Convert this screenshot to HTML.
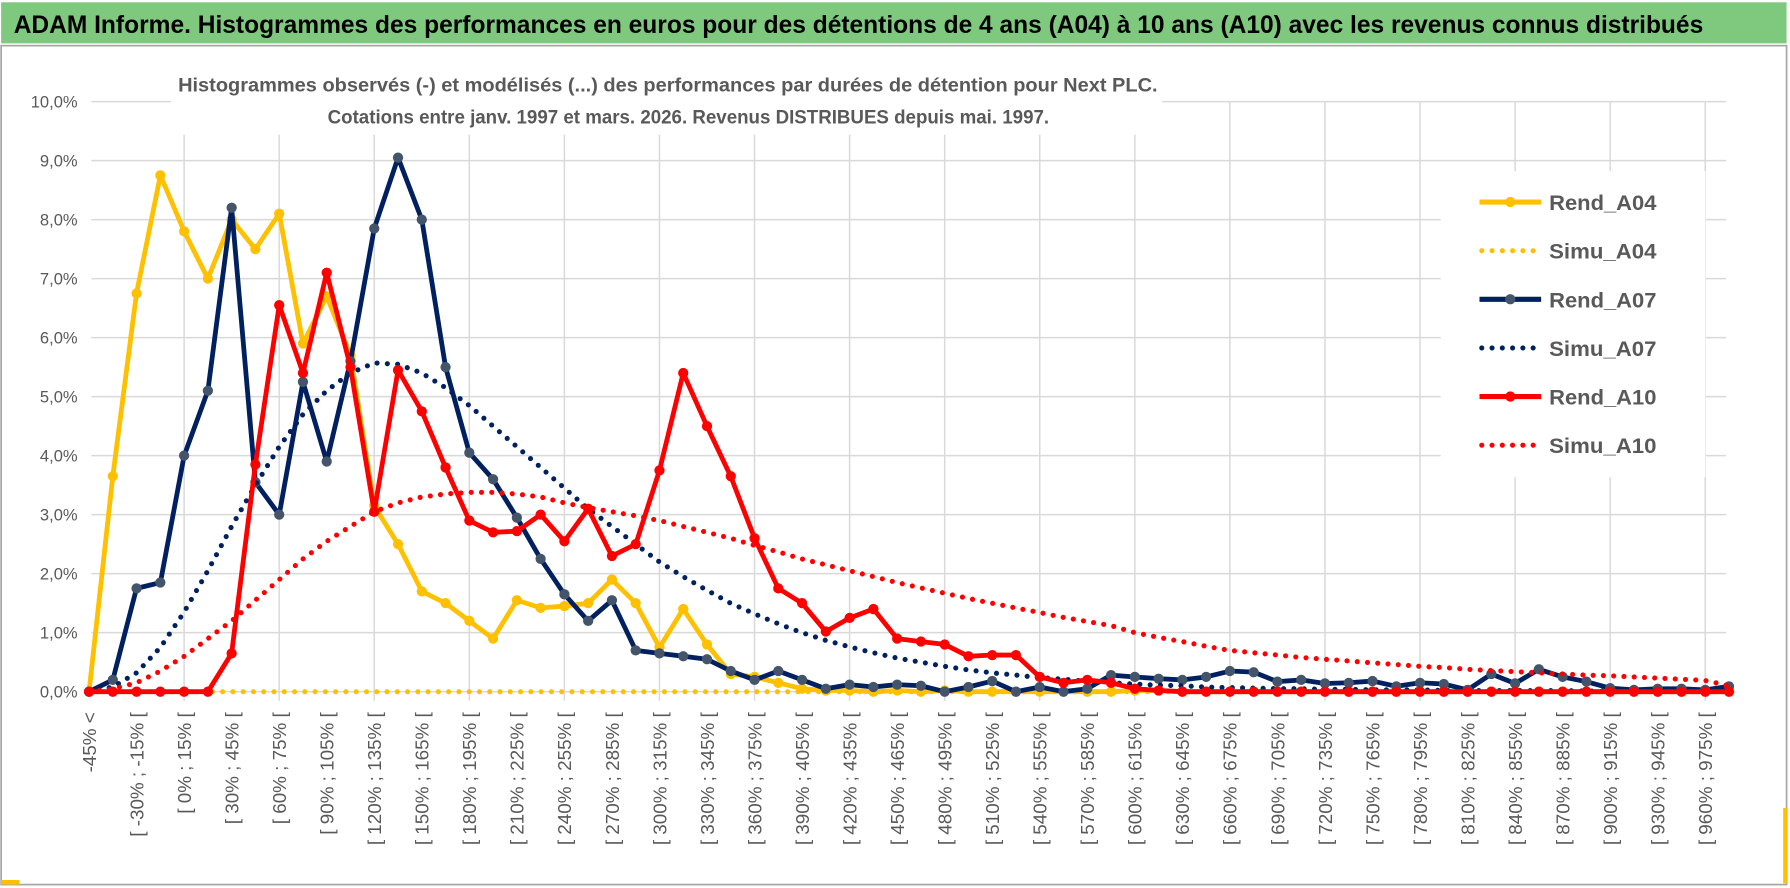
<!DOCTYPE html>
<html><head><meta charset="utf-8"><title>ADAM Informe</title>
<style>
html,body{margin:0;padding:0;background:#fff;}
svg{display:block;}
text{font-family:"Liberation Sans Narrow","Liberation Sans",sans-serif;}
</style></head>
<body>
<svg id="chart" width="1790" height="888" viewBox="0 0 1568 778" preserveAspectRatio="none" xmlns="http://www.w3.org/2000/svg">
  <rect x="0" y="0" width="1568" height="778" fill="#fff"/>
  <rect x="1" y="2" width="1564" height="36" fill="#7ec97e"/>
  <text x="12" y="29" font-size="22" font-weight="bold" fill="#000" textLength="1480" lengthAdjust="spacingAndGlyphs">ADAM Informe. Histogrammes des performances en euros pour des détentions de 4 ans (A04) à 10 ans (A10) avec les revenus connus distribués</text>
  <rect x="1" y="40" width="1564" height="735" fill="none" stroke="#a6a6a6" stroke-width="1.5"/>
  <rect x="1" y="771" width="16" height="4" fill="#ffc000"/>
  <rect x="1562" y="708" width="4" height="66" fill="#ffc000"/>
  <g id="grid"></g>
  <rect x="150" y="56" width="868" height="62" fill="#fff"/>
  <text x="585" y="80" font-size="17" font-weight="bold" fill="#595959" text-anchor="middle" textLength="858" lengthAdjust="spacingAndGlyphs">Histogrammes observés (-) et modélisés (...) des performances par durées de détention pour Next PLC.</text>
  <text x="603" y="108" font-size="17" font-weight="bold" fill="#595959" text-anchor="middle" textLength="632" lengthAdjust="spacingAndGlyphs">Cotations entre janv. 1997 et mars. 2026. Revenus DISTRIBUES depuis mai. 1997.</text>
  <g id="yaxis"></g>
  <g id="xaxis"></g>
  <g id="series"></g>
  <g id="legend"></g>
</svg>
<script>
const yTicks = [0,1,2,3,4,5,6,7,8,9,10];
const yTickLabels = ["0,0%","1,0%","2,0%","3,0%","4,0%","5,0%","6,0%","7,0%","8,0%","9,0%","10,0%"];
const categoryCount = 70;
const rendA04 = [0,3.65,6.75,8.75,7.8,7.0,8.0,7.5,8.1,5.9,6.7,5.7,3.15,2.5,1.7,1.5,1.2,0.9,1.55,1.42,1.45,1.5,1.9,1.5,0.75,1.4,0.8,0.3,0.25,0.15,0.05,0.02,0.02,0,0.02,0,0.02,0,0,0,0,0,0,0,0.02,0.02,0,0,0,0,0,0,0,0,0,0,0,0,0,0,0,0,0,0,0,0,0,0,0,0];
const simuA04 = new Array(70).fill(0);
const rendA07 = [0,0.2,1.75,1.85,4.0,5.1,8.2,3.55,3.0,5.25,3.9,5.6,7.85,9.05,8.0,5.5,4.05,3.6,2.95,2.25,1.65,1.2,1.55,0.7,0.65,0.6,0.55,0.35,0.2,0.35,0.2,0.05,0.12,0.08,0.12,0.1,0.0,0.08,0.18,0.0,0.08,0.0,0.05,0.28,0.25,0.22,0.2,0.25,0.35,0.33,0.17,0.2,0.14,0.15,0.18,0.09,0.15,0.13,0.03,0.3,0.14,0.38,0.25,0.17,0.06,0.03,0.05,0.05,0.03,0.09];
const simuA07 = [0,0.08,0.32,0.75,1.35,2.05,2.8,3.5,4.15,4.7,5.1,5.4,5.57,5.55,5.4,5.15,4.85,4.5,4.15,3.8,3.45,3.1,2.8,2.5,2.2,1.95,1.72,1.5,1.32,1.15,1.0,0.87,0.76,0.66,0.57,0.5,0.43,0.37,0.32,0.28,0.24,0.21,0.18,0.15,0.13,0.11,0.1,0.08,0.07,0.06,0.05,0.05,0.04,0.04,0.03,0.03,0.03,0.02,0.02,0.02,0.02,0.02,0.02,0.01,0.01,0.01,0.01,0.01,0.01,0.01];
const rendA10 = [0,0,0,0,0,0,0.65,3.85,6.55,5.4,7.1,5.5,3.05,5.45,4.75,3.8,2.9,2.7,2.72,3.0,2.55,3.1,2.3,2.5,3.75,5.4,4.5,3.65,2.6,1.75,1.5,1.02,1.25,1.4,0.9,0.85,0.8,0.6,0.62,0.62,0.25,0.15,0.2,0.15,0.05,0.02,0,0,0,0,0,0,0,0,0,0,0,0,0,0,0,0,0,0,0,0,0,0,0,0];
const simuA10 = [0,0.05,0.15,0.35,0.6,0.9,1.2,1.55,1.9,2.25,2.55,2.8,3.05,3.2,3.3,3.35,3.38,3.38,3.35,3.3,3.2,3.12,3.05,2.98,2.9,2.8,2.7,2.6,2.48,2.37,2.25,2.15,2.05,1.95,1.85,1.76,1.67,1.58,1.5,1.42,1.34,1.26,1.19,1.12,1.0,0.92,0.85,0.77,0.7,0.66,0.62,0.58,0.55,0.52,0.49,0.46,0.43,0.41,0.38,0.36,0.34,0.32,0.3,0.28,0.27,0.25,0.23,0.21,0.19,0.1];

const NS = "http://www.w3.org/2000/svg";
const X0 = 78, DX = 20.82, Y0 = 606, DY = 51.7;
function xS(i){ return X0 + i*DX; }
function yS(v){ return Y0 - v*DY; }
function mk(tag, attrs, parent){ const e=document.createElementNS(NS,tag); for(const k in attrs) e.setAttribute(k,attrs[k]); parent.appendChild(e); return e; }
function catLabel(i){ if(i===0) return "-45% <"; const lo=-45+15*(i-1); return "[ "+lo+"% ; "+(lo+15)+"% ["; }

const grid=document.getElementById('grid');
yTicks.forEach(function(t){
  const l=mk('line',{x1:80,x2:1512,y1:yS(t),y2:yS(t),stroke:'#d9d9d9','stroke-width':1.3},grid);
  
  
});
for(let i=4;i<categoryCount;i+=4){
  const l=mk('line',{x1:xS(i),x2:xS(i),y1:yS(10),y2:yS(0)+8,stroke:'#d9d9d9','stroke-width':1.3},grid);
  
  
}
const yax=document.getElementById('yaxis');
yTicks.forEach(function(t,k){
  const e=mk('text',{x:68,y:yS(t)+5,'font-size':14.5,fill:'#595959','text-anchor':'end'},yax);
  e.textContent=yTickLabels[k];
  
  
});
const xax=document.getElementById('xaxis');
for(let i=0;i<categoryCount;i+=2){
  const x=xS(i)+6, y=624;
  const e=mk('text',{x:x,y:y,'font-size':16.5,fill:'#595959','text-anchor':'end',transform:'rotate(-90 '+x+' '+y+')'},xax);
  e.textContent=catLabel(i);
  
  
}
const ser=document.getElementById('series');
function pts(arr){ return arr.map(function(v,i){return xS(i).toFixed(1)+','+yS(v).toFixed(1);}).join(' '); }
function drawRend(arr,color,mcol,name){
  const g=mk('g',{},ser);
  
  
  mk('polyline',{points:pts(arr),fill:'none',stroke:color,'stroke-width':4.2,'stroke-linejoin':'round'},g);
  arr.forEach(function(v,i){
    const c=mk('circle',{cx:xS(i),cy:yS(v),r:4.5,fill:mcol},g);
    
    
  });
}
function drawSimu(arr,color,name){
  const p=mk('polyline',{points:pts(arr),fill:'none',stroke:color,'stroke-width':4.5,'stroke-dasharray':'0 9','stroke-linecap':'round'},ser);
  
  
}
drawRend(rendA04,'#ffc000','#ffc000','rend-a04-line');
drawSimu(simuA04,'#ffc000','simu-a04-line');
drawRend(rendA07,'#002060','#44546a','rend-a07-line');
drawSimu(simuA07,'#002060','simu-a07-line');
drawRend(rendA10,'#ff0000','#ff0000','rend-a10-line');
drawSimu(simuA10,'#ff0000','simu-a10-line');

const leg=document.getElementById('legend');
mk('rect',{x:1262,y:150,width:232,height:268,fill:'#fff'},leg);
const legNames=['Rend_A04','Simu_A04','Rend_A07','Simu_A07','Rend_A10','Simu_A10'];
const legColors=['#ffc000','#ffc000','#002060','#002060','#ff0000','#ff0000'];
const legMarks=['#ffc000','#ffc000','#44546a','#002060','#ff0000','#ff0000'];
legNames.forEach(function(n,k){
  const y=177+k*42.6;
  const g=mk('g',{},leg);
  
  
  if(k%2===0){
    mk('line',{x1:1296,x2:1350,y1:y,y2:y,stroke:legColors[k],'stroke-width':4.5},g);
    mk('circle',{cx:1323,cy:y,r:4.5,fill:legMarks[k]},g);
  } else {
    mk('line',{x1:1298,x2:1350,y1:y,y2:y,stroke:legColors[k],'stroke-width':4.5,'stroke-dasharray':'0 9','stroke-linecap':'round'},g);
  }
  const t=mk('text',{x:1357,y:y+7,'font-size':19,'font-weight':'bold',fill:'#595959',textLength:94,lengthAdjust:'spacingAndGlyphs'},g);
  t.textContent=n;
});
</script>
</body></html>
